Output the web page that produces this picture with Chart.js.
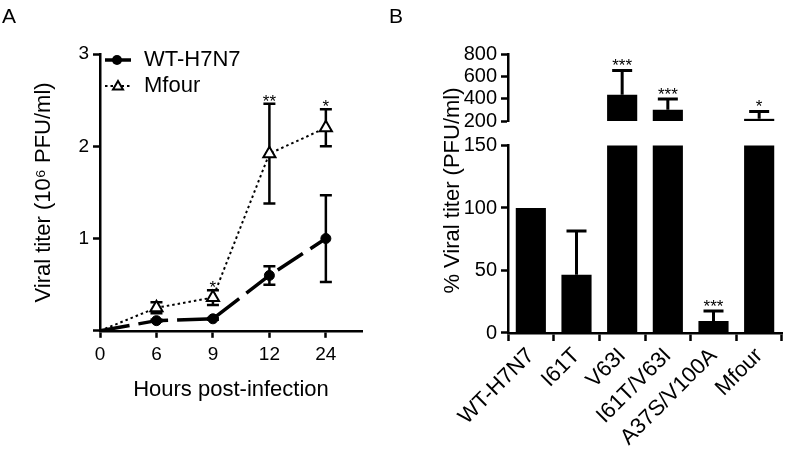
<!DOCTYPE html>
<html>
<head>
<meta charset="utf-8">
<script src="https://cdn.jsdelivr.net/npm/chart.js"></script>
<style>
  html, body { margin: 0; padding: 0; background: #fff; }
  #wrap { position: relative; width: 787px; height: 449px; font-family: 'Liberation Sans', Arial, sans-serif; }
  #wrap canvas { position: absolute; top: 0; }
  #chartA { left: 0; }
  #chartB { left: 400px; }
  .panel { position: absolute; font-size: 21px; line-height: 21px; color: #000; }
</style>
</head>
<body>
<div id="wrap">
  <canvas id="chartA" width="400" height="449" style="width:400px;height:449px"></canvas>
  <canvas id="chartB" width="387" height="449" style="width:387px;height:449px"></canvas>
  <div class="panel" style="left:2px;top:5px">A</div>
  <div class="panel" style="left:389px;top:5px">B</div>
</div>
<script>
const FONT = "'Liberation Sans', Arial, sans-serif";
Chart.defaults.font.family = FONT;
Chart.defaults.color = '#000';

// panel A - titer over time (10^6 PFU/ml), mean and error
const hours = ['0', '6', '9', '12', '24'];
const wtTiter = [0, 0.11, 0.13, 0.60, 1.00];
const wtErr = [0, 0.01, 0.01, 0.10, 0.47];
const mfourTiter = [0, 0.25, 0.36, 1.92, 2.20];
const mfourErr = [0, 0.06, 0.08, 0.54, 0.20];
const sigA = ['', '', '*', '**', '*'];

// panel B - % viral titer relative to WT, upper error only
const strains = ['WT-H7N7', 'I61T', 'V63I', 'I61T/V63I', 'A37S/V100A', 'Mfour'];
const pctTiter = [100, 46.5, 435, 301, 9.6, 220];
const pctErr = [0, 35, 218, 96, 8, 66];
const sigB = ['', '', '***', '***', '***', '*'];

const toXY = arr => arr.map((v, i) => ({x: i, y: v}));

const axisCommon = {
  grid: {drawOnChartArea: false, drawTicks: true, tickLength: 7, tickWidth: 2.5, tickColor: '#000'},
  border: {display: true, color: '#000', width: 2.5}
};

// error bars under the markers
const errorBarsA = {
  id: 'errorBarsA',
  beforeDatasetsDraw(chart) {
    const {ctx, scales: {x, y}} = chart;
    ctx.save();
    ctx.strokeStyle = '#000';
    ctx.lineWidth = 2.5;
    chart.data.datasets.forEach(ds => {
      ds.errors.forEach((e, i) => {
        if (!e) return;
        const px = x.getPixelForValue(i);
        const top = y.getPixelForValue(ds.means[i] + e);
        const bot = y.getPixelForValue(ds.means[i] - e);
        ctx.beginPath();
        ctx.moveTo(px, top); ctx.lineTo(px, bot);
        ctx.moveTo(px - 6, top); ctx.lineTo(px + 6, top);
        ctx.moveTo(px - 6, bot); ctx.lineTo(px + 6, bot);
        ctx.stroke();
      });
    });
    ctx.restore();
  },
  afterDatasetsDraw(chart) {
    const {ctx, scales: {x, y}} = chart;
    ctx.save();
    ctx.font = '17px ' + FONT;
    ctx.textAlign = 'center';
    ctx.textBaseline = 'alphabetic';
    ctx.fillStyle = '#000';
    sigA.forEach((s, i) => {
      if (!s) return;
      const top = y.getPixelForValue(mfourTiter[i] + mfourErr[i]);
      ctx.fillText(s, x.getPixelForValue(i), top + 3);
    });
    ctx.restore();
  }
};

// legend inside the plot, line + marker like the datasets
const legendA = {
  id: 'legendA',
  afterDraw(chart) {
    const {ctx} = chart;
    const rows = [60, 86];
    ctx.save();
    chart.data.datasets.forEach((ds, k) => {
      const yy = rows[k];
      ctx.strokeStyle = '#000';
      ctx.lineWidth = ds.borderWidth;
      ctx.setLineDash(k === 0 ? [] : ds.borderDash);
      ctx.beginPath();
      ctx.moveTo(105, yy); ctx.lineTo(131, yy);
      ctx.stroke();
      ctx.setLineDash([]);
      ctx.lineWidth = 2;
      if (ds.pointStyle === 'triangle') {
        const r = 5;
        ctx.beginPath();
        ctx.moveTo(118, yy - r);
        ctx.lineTo(118 + r, yy + r * 0.7);
        ctx.lineTo(118 - r, yy + r * 0.7);
        ctx.closePath();
        ctx.fillStyle = '#fff';
        ctx.fill();
        ctx.stroke();
      } else {
        ctx.beginPath();
        ctx.arc(117, yy, 5, 0, Math.PI * 2);
        ctx.fillStyle = '#000';
        ctx.fill();
      }
      ctx.fillStyle = '#000';
      ctx.font = '22px ' + FONT;
      ctx.textBaseline = 'middle';
      ctx.textAlign = 'left';
      ctx.fillText(ds.label, 144, yy);
    });
    ctx.restore();
  }
};

new Chart(document.getElementById('chartA'), {
  type: 'line',
  data: {
    datasets: [
      {
        label: 'WT-H7N7',
        data: toXY(wtTiter),
        means: wtTiter,
        errors: wtErr,
        borderColor: '#000',
        borderWidth: 3.5,
        borderDash: [30, 9],
        pointStyle: 'circle',
        pointRadius: [0, 5, 5, 5, 5],
        pointBackgroundColor: '#000',
        pointBorderColor: '#000',
        pointBorderWidth: 1
      },
      {
        label: 'Mfour',
        data: toXY(mfourTiter),
        means: mfourTiter,
        errors: mfourErr,
        borderColor: '#000',
        borderWidth: 2,
        borderDash: [2.5, 3],
        pointStyle: 'triangle',
        pointRadius: [0, 7, 7, 7, 7],
        pointBackgroundColor: '#fff',
        pointBorderColor: '#000',
        pointBorderWidth: 2
      }
    ]
  },
  options: {
    responsive: false,
    animation: false,
    layout: {padding: {left: 27, top: 54, right: 38, bottom: 46}},
    plugins: {legend: {display: false}, tooltip: {enabled: false}},
    scales: {
      x: {
        type: 'linear',
        min: 0,
        max: 4.64,
        afterBuildTicks: s => { s.ticks = hours.map((h, i) => ({value: i})); },
        ticks: {font: {size: 19}, padding: 6, callback: v => hours[v]},
        title: {display: true, text: 'Hours post-infection', font: {size: 22}, padding: {top: 4, bottom: 0}},
        ...axisCommon
      },
      y: {
        min: 0,
        max: 3,
        ticks: {stepSize: 1, font: {size: 19}, padding: 4, callback: v => (v === 0 ? '' : v)},
        title: {display: true, text: 'Viral titer (10\u2076 PFU/ml)', font: {size: 22}, padding: 4},
        afterFit: s => { s.width = 73; },
        ...axisCommon
      }
    }
  },
  plugins: [errorBarsA, legendA]
});

// panel B: upward error bars + stars, and the shared y title
const errorBarsB = {
  id: 'errorBarsB',
  afterDatasetsDraw(chart) {
    const {ctx, scales: {x, yLow, yHigh}} = chart;
    ctx.save();
    ctx.strokeStyle = '#000';
    ctx.fillStyle = '#000';
    ctx.lineWidth = 3;
    ctx.font = '17px ' + FONT;
    ctx.textAlign = 'center';
    pctTiter.forEach((v, i) => {
      const px = x.getPixelForValue(i);
      const topVal = v + pctErr[i];
      const sc = topVal > yLow.max ? yHigh : yLow;
      const top = sc.getPixelForValue(topVal);
      if (pctErr[i]) {
        const from = sc.getPixelForValue(Math.max(v, sc.min));
        ctx.beginPath();
        ctx.moveTo(px, from); ctx.lineTo(px, top);
        ctx.moveTo(px - 10, top); ctx.lineTo(px + 10, top);
        ctx.stroke();
      }
      if (sigB[i]) ctx.fillText(sigB[i], px, top + 1);
    });
    ctx.restore();
  },
  afterDraw(chart) {
    const {ctx, chartArea} = chart;
    ctx.save();
    ctx.translate(53, (chartArea.top + chartArea.bottom) / 2 - 3);
    ctx.rotate(-Math.PI / 2);
    ctx.font = '22px ' + FONT;
    ctx.fillStyle = '#000';
    ctx.textAlign = 'center';
    ctx.textBaseline = 'middle';
    ctx.fillText('% Viral titer (PFU/ml)', 0, 0);
    ctx.restore();
  }
};

const barStyle = {
  backgroundColor: '#000',
  borderWidth: 0,
  barPercentage: 0.66,
  categoryPercentage: 1,
  grouped: false,
  clip: 0
};

new Chart(document.getElementById('chartB'), {
  type: 'bar',
  data: {
    labels: strains,
    datasets: [
      {data: pctTiter, yAxisID: 'yLow', ...barStyle},
      {data: pctTiter, yAxisID: 'yHigh', ...barStyle}
    ]
  },
  options: {
    responsive: false,
    animation: false,
    layout: {padding: {left: 36, top: 54, right: 5, bottom: 0}},
    plugins: {legend: {display: false}, tooltip: {enabled: false}},
    scales: {
      x: {
        ticks: {font: {size: 22}, minRotation: 45, maxRotation: 45, padding: 2},
        afterFit: s => { s.height = 116; },
        ...axisCommon,
        grid: {...axisCommon.grid, tickLength: 8}
      },
      yLow: {
        type: 'linear',
        position: 'left',
        stack: 'b',
        stackWeight: 187.3,
        min: 0,
        max: 150,
        ticks: {stepSize: 50, autoSkip: false, font: {size: 20}, padding: 4},
        afterFit: s => { s.width = 72; },
        ...axisCommon
      },
      yGap: {
        type: 'linear',
        position: 'left',
        stack: 'b',
        stackWeight: 24.4,
        ticks: {display: false},
        grid: {display: false},
        border: {display: false},
        afterFit: s => { s.width = 72; }
      },
      yHigh: {
        type: 'linear',
        position: 'left',
        stack: 'b',
        stackWeight: 67,
        min: 200,
        max: 800,
        ticks: {stepSize: 200, autoSkip: false, font: {size: 20}, padding: 4},
        afterFit: s => { s.width = 72; },
        ...axisCommon
      }
    }
  },
  plugins: [errorBarsB]
});
</script>
</body>
</html>
